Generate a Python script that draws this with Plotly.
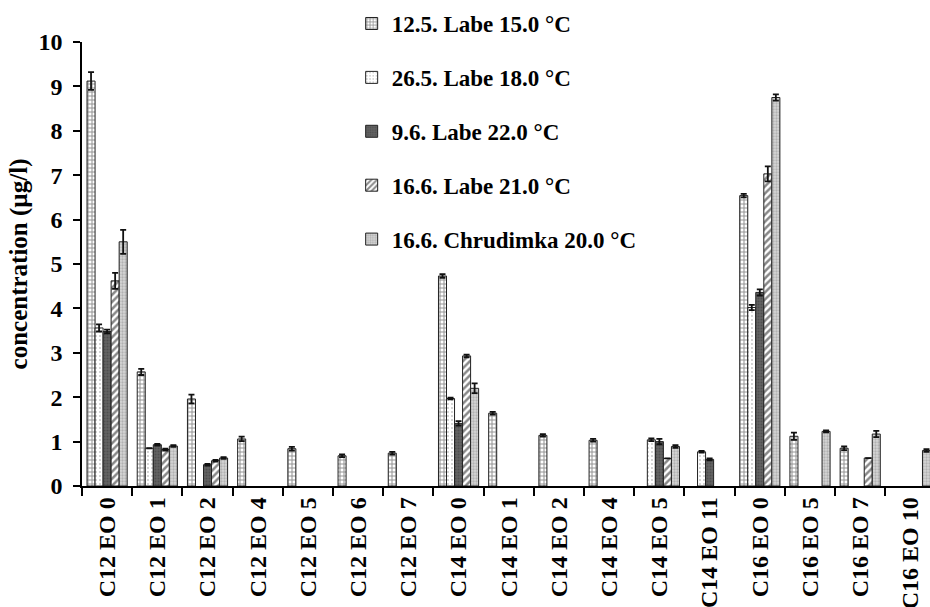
import plotly.graph_objects as go

# Surfactant homologues (alkyl chain length / number of ethoxy units)
categories = ["C12 EO 0", "C12 EO 1", "C12 EO 2", "C12 EO 4", "C12 EO 5", "C12 EO 6",
              "C12 EO 7", "C14 EO 0", "C14 EO 1", "C14 EO 2", "C14 EO 4", "C14 EO 5",
              "C14 EO 11", "C16 EO 0", "C16 EO 5", "C16 EO 7", "C16 EO 10"]

series_names = ["12.5. Labe 15.0 °C", "26.5. Labe 18.0 °C", "9.6. Labe 22.0 °C",
                "16.6. Labe 21.0 °C", "16.6. Chrudimka 20.0 °C"]

# concentrations (µg/l); None = not detected
labe_12_5 = [9.12, 2.57, 1.96, 1.06, 0.84, 0.68, 0.74, 4.73, 1.64, 1.14, 1.03, None, None, 6.54, 1.12, 0.85, None]
labe_26_5 = [3.56, 0.85, None, None, None, None, None, 1.97, None, None, None, 1.04, 0.77, 4.02, None, None, None]
labe_9_6 = [3.48, 0.93, 0.48, None, None, None, None, 1.41, None, None, None, 1.00, 0.60, 4.36, None, None, None]
labe_16_6 = [4.62, 0.82, 0.57, None, None, None, None, 2.93, None, None, None, 0.62, None, 7.03, None, 0.63, None]
chrudimka_16_6 = [5.50, 0.90, 0.63, None, None, None, None, 2.20, None, None, None, 0.89, None, 8.75, 1.23, 1.17, 0.80]

# standard deviations
err_12_5 = [0.20, 0.07, 0.10, 0.05, 0.04, 0.03, 0.03, 0.04, 0.03, 0.03, 0.03, None, None, 0.04, 0.08, 0.04, None]
err_26_5 = [0.08, None, None, None, None, None, None, 0.02, None, None, None, 0.03, 0.02, 0.06, None, None, None]
err_9_6 = [0.04, 0.02, 0.02, None, None, None, None, 0.05, None, None, None, 0.06, 0.02, 0.07, None, None, None]
err_16_6 = [0.18, 0.02, 0.02, None, None, None, None, 0.03, None, None, None, None, None, 0.17, None, None, None]
err_chr = [0.27, 0.02, 0.02, None, None, None, None, 0.11, None, None, None, 0.03, None, 0.07, 0.02, 0.07, 0.03]

values = [labe_12_5, labe_26_5, labe_9_6, labe_16_6, chrudimka_16_6]
errors = [err_12_5, err_26_5, err_9_6, err_16_6, err_chr]

FONT = "Liberation Serif, Times New Roman, serif"

fills = [
    dict(color="white", pattern=dict(shape="+", fgcolor="#2a2a2a", bgcolor="white", size=4, solidity=0.45)),
    dict(color="white", pattern=dict(shape=".", fgcolor="#8a8a8a", bgcolor="white", size=4, solidity=0.18)),
    dict(color="#555555", pattern=dict(shape=".", fgcolor="#3a3a3a", bgcolor="#636363", size=3, solidity=0.4)),
    dict(color="white", pattern=dict(shape="/", fgcolor="#111111", bgcolor="white", size=5, solidity=0.5)),
    dict(color="#c8c8c8", pattern=dict(shape=".", fgcolor="#8c8c8c", bgcolor="#d6d6d6", size=3, solidity=0.45)),
]

fig = go.Figure()
for i, (name, vals, errs, fill) in enumerate(zip(series_names, values, errors, fills)):
    fig.add_trace(go.Bar(
        name=name,
        x=categories,
        y=vals,
        legendgroup=f"g{i}",
        marker=dict(color=fill["color"], pattern=fill["pattern"],
                    line=dict(color="#222222", width=1)),
        error_y=dict(type="data", array=errs, visible=True, color="#111111",
                     thickness=1.8, width=3),
    ))

fig.update_layout(
    width=930, height=607,
    margin=dict(l=82, r=0, t=42, b=121, autoexpand=False),
    paper_bgcolor="white", plot_bgcolor="white",
    barmode="group", bargap=0.2, bargroupgap=0,
    font=dict(family=FONT, color="black", size=24, weight="bold"),
    showlegend=True,
    legend=dict(
        x=0.318, y=1.09, xanchor="left", yanchor="top",
        traceorder="grouped", tracegroupgap=21,
        bgcolor="rgba(0,0,0,0)", borderwidth=0,
        font=dict(family=FONT, size=23, color="black", weight="bold"),
        itemwidth=30,
    ),
)

fig.update_xaxes(
    type="category",
    range=[-0.5, 16.39], dtick=1,
    showline=True, linecolor="black", linewidth=1.5,
    ticks="outside", tickson="boundaries", ticklen=8, tickwidth=1.5, tickcolor="black",
    tickangle=-90,
    tickfont=dict(family=FONT, size=24, color="black", weight="bold"),
    showgrid=False, zeroline=False, automargin=False,
)

fig.update_yaxes(
    range=[0, 10], dtick=1,
    showline=True, linecolor="black", linewidth=1.5,
    ticks="outside", ticklen=7, tickwidth=1.5, tickcolor="black",
    tickfont=dict(family=FONT, size=24, color="black", weight="bold"),
    ticklabelstandoff=6,
    showgrid=False, zeroline=False, automargin=False,
    title=dict(text="concentration (µg/l)", standoff=4,
               font=dict(family=FONT, size=25, color="black", weight="bold")),
)

fig.write_html("out.html")
